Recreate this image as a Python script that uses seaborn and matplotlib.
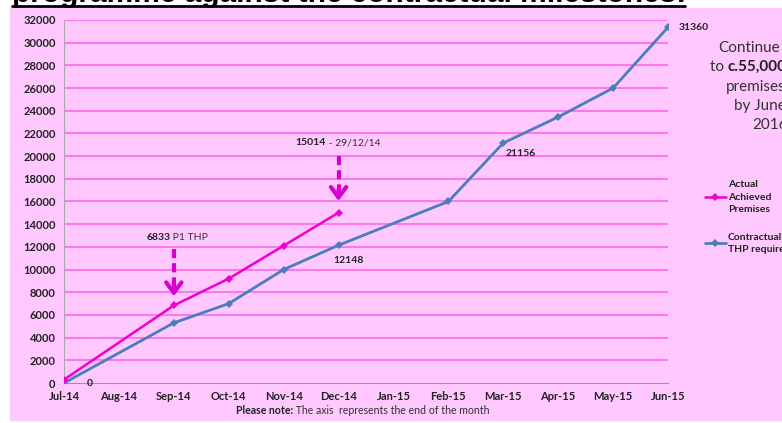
"""
premises roll-out: actual achieved vs contractual THP requirement
"""
import matplotlib
matplotlib.use('Agg')
import matplotlib.pyplot as plt
from matplotlib.patches import Rectangle
from matplotlib.lines import Line2D
import numpy as np
import pandas as pd
import seaborn as sns

sns.set_style('white')
plt.rcParams['font.family'] = ['Lato', 'DejaVu Sans']

months = ['Jul-14', 'Aug-14', 'Sep-14', 'Oct-14', 'Nov-14', 'Dec-14',
          'Jan-15', 'Feb-15', 'Mar-15', 'Apr-15', 'May-15', 'Jun-15']
actual_months = ['Jul-14', 'Sep-14', 'Oct-14', 'Nov-14', 'Dec-14']
actual_values = [300, 6833, 9200, 12100, 15014]
contract_months = ['Jul-14', 'Sep-14', 'Oct-14', 'Nov-14', 'Dec-14',
                   'Feb-15', 'Mar-15', 'Apr-15', 'May-15', 'Jun-15']
contract_values = [0, 5300, 7000, 10000, 12148, 16000, 21156, 23450, 26000, 31360]
y_ticks = list(range(0, 32001, 2000))

PINK_BG = '#FFC8FF'
GRID = '#FF66EE'
MAGENTA = '#F000CC'
BLUE = '#4A7EBB'
ARROW = '#D800D0'

df_actual = pd.DataFrame({'month': actual_months, 'premises': actual_values})
df_contract = pd.DataFrame({'month': contract_months, 'premises': contract_values})
df_actual['pos'] = [months.index(m) for m in df_actual['month']]
df_contract['pos'] = [months.index(m) for m in df_contract['month']]

fig = plt.figure(figsize=(7.82, 4.23), dpi=100)
fig.patch.set_facecolor('white')
W, H = 782, 423


def fx(px):
    return px / W


def fy(py):
    return 1 - py / H


# pink slide area
fig.patches.append(Rectangle((fx(10), fy(420)), fx(772), 412 / H,
                             transform=fig.transFigure, color=PINK_BG, zorder=-5))

# clipped title at the very top
fig.text(fx(12), fy(2), 'programme against the contractual milestones:',
         fontsize=21.5, fontweight='bold', family=['Liberation Sans', 'DejaVu Sans'],
         va='baseline', ha='left', color='black')
fig.lines.append(Line2D([fx(12), fx(685)], [fy(6.5), fy(6.5)], transform=fig.transFigure,
                        color='black', linewidth=2))

ax = fig.add_axes([fx(64), fy(383), fx(668 - 64), (383 - 20) / H])
ax.set_facecolor('none')
ax.set_zorder(2)

sns.lineplot(data=df_contract, x='pos', y='premises', ax=ax, color=BLUE, marker='D',
             markersize=4.5, linewidth=2, markeredgewidth=0, zorder=3,
             label='Contractual\nTHP require')
sns.lineplot(data=df_actual, x='pos', y='premises', ax=ax, color=MAGENTA, marker='D',
             markersize=4.5, linewidth=1.8, markeredgewidth=0, zorder=4,
             label='Actual\nAchieved\nPremises')

ax.set_xlim(0, 11)
ax.set_ylim(0, 32000)
ax.set_yticks(y_ticks)
ax.set_yticklabels([str(v) for v in y_ticks])
ax.set_xticks(range(len(months)))
ax.set_xticklabels(months)
ax.tick_params(axis='both', labelsize=8, colors='#222222', length=0, pad=6)
ax.tick_params(axis='x', length=3, color='#999999', direction='out', pad=3)
for lab in ax.get_xticklabels() + ax.get_yticklabels():
    lab.set_fontweight('bold')
for y in y_ticks[1:]:
    ax.axhline(y, color=GRID, linewidth=1.2, zorder=1)
for side in ['top', 'right']:
    ax.spines[side].set_visible(False)
ax.spines['left'].set_color('#aaaaaa')
ax.spines['bottom'].set_color('#999999')
ax.set_xlabel('')
ax.set_ylabel('')

# data labels
lab_kw = dict(fontsize=7.5, fontweight='bold', color='#222222')
ax.text(11.2, 31360, '31360', va='center', ha='left', clip_on=False, **lab_kw)
ax.text(8.05, 20250, '21156', va='center', ha='left', **lab_kw)
ax.text(4.9, 10800, '12148', va='center', ha='left', **lab_kw)
ax.text(0.47, 0, '0', va='center', ha='center', **lab_kw)

# annotations with dashed arrows
t1 = ax.text(1.5, 12800, '6833', va='center', ha='left', **lab_kw)
ax.annotate(' P1 THP', xy=(1, 0.5), xycoords=t1, va='center', ha='left',
            fontsize=7.5, color='#333333')
t2 = ax.text(4.22, 21200, '15014', va='center', ha='left', **lab_kw)
ax.annotate(' - 29/12/14', xy=(1, 0.5), xycoords=t2, va='center', ha='left',
            fontsize=7.5, color='#333333')
for x0, y_top, y_tip in [(2, 11800, 7400), (5, 20000, 15800)]:
    ax.plot([x0, x0], [y_top, y_tip + 900], color=ARROW, linewidth=3,
            linestyle=(0, (2.2, 1.2)), solid_capstyle='butt', zorder=5)
    ax.annotate('', xy=(x0, y_tip), xytext=(x0, y_tip + 1500),
                arrowprops=dict(arrowstyle='->,head_width=0.55,head_length=0.75',
                                color=ARROW, lw=3), zorder=5)

# legend
handles, labels = ax.get_legend_handles_labels()
leg = ax.legend(handles[::-1], labels[::-1], loc='upper left', bbox_to_anchor=(1.045, 0.585),
                frameon=False, handlelength=2.1, handletextpad=0.15,
                labelspacing=1.8, prop={'weight': 'bold', 'size': 7.5})
for t in leg.get_texts():
    t.set_color('#222222')
    t.set_linespacing(1.5)
    t.set_multialignment('left')

# side note, clipped at the right edge
note_kw = dict(fontsize=11, va='center', color='#333333')
fig.text(fx(718), fy(48), 'Continue', ha='left', **note_kw)
fig.text(fx(728), fy(67), 'to ', ha='right', **note_kw)
fig.text(fx(728), fy(67), 'c.55,000', ha='left', fontweight='bold',
         fontsize=11, va='center', color='#222222')
fig.text(fx(726), fy(87), 'premises', ha='left', **note_kw)
fig.text(fx(734), fy(106), 'by June', ha='left', **note_kw)
fig.text(fx(752), fy(125), '2016', ha='left', **note_kw)

# footnote under the axis
f1 = fig.text(fx(236), fy(410), 'Please note:', fontsize=7.6, fontweight='bold',
              ha='left', va='center', color='#222222')
ax.annotate(' The axis  represents the end of the month', xy=(1, 0.5), xycoords=f1,
            va='center', ha='left', fontsize=7.6, color='#333333',
            annotation_clip=False)

plt.savefig('out.png', dpi=100)
plt.close()
